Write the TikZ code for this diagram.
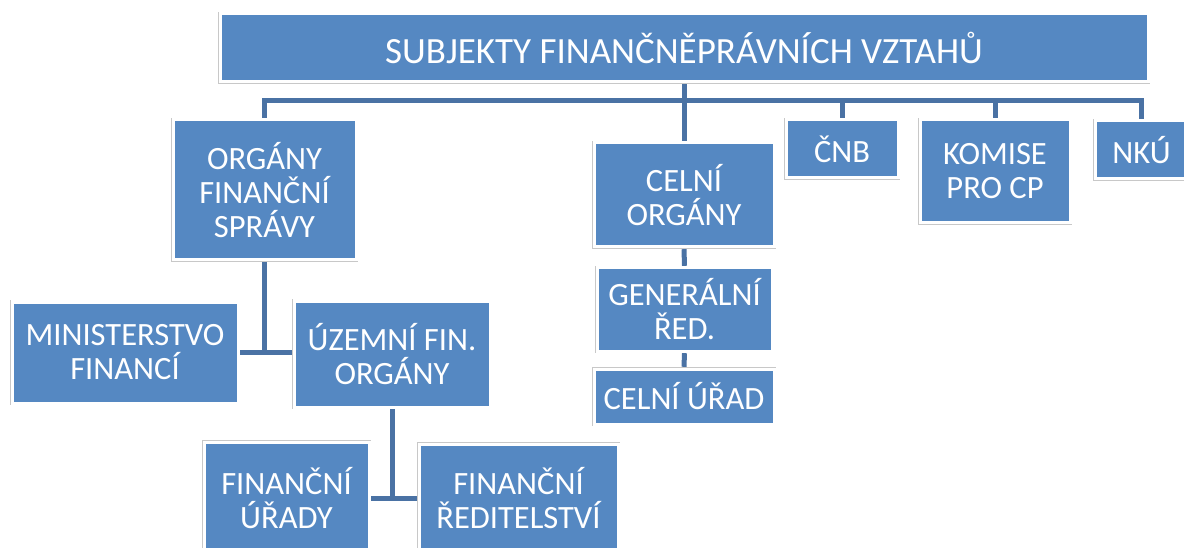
\documentclass[tikz,border=0pt]{standalone}
\usepackage{fontspec}
\setmainfont{Carlito}
\usepackage{tikz}
\usetikzlibrary{positioning}

\definecolor{boxblue}{HTML}{5588C2}
\definecolor{linkblue}{HTML}{4A72A4}
\definecolor{framegray}{HTML}{C8C8C8}

\begin{document}
\begin{tikzpicture}[
    x=1pt, y=-1pt,
    box/.style={
        fill=boxblue,
        draw=white,
        line width=3pt,
        preaction={draw=framegray, line width=4.4pt},
        text=white,
        align=center,
        inner sep=0pt,
        outer sep=2.2pt,
        font=\fontsize{32.5}{34}\selectfont
    },
    link/.style={draw=linkblue, line width=5pt}
]
\useasboundingbox (0,0) rectangle (1184,548);

% --- Title
\node[box, minimum width=928pt, minimum height=68pt, font=\fontsize{37}{40}\selectfont]
    (title) at (684,48) {SUBJEKTY FINANČNĚPRÁVNÍCH VZTAHŮ};

% --- First level
\node[box, minimum width=183pt, minimum height=140pt] (ofs) at (264.5,190) {ORGÁNY\\FINANČNÍ\\SPRÁVY};
\node[box, minimum width=180pt, minimum height=104pt] (celni) at (684,195) {CELNÍ\\ORGÁNY};
\node[box, minimum width=112pt, minimum height=58pt] (cnb) at (842,149) {ČNB};
\node[box, minimum width=150pt, minimum height=103pt] (komise) at (995,171.5) {KOMISE\\PRO CP};
\node[box, minimum width=93pt, minimum height=58pt] (nku) at (1141.5,150) {NKÚ};

% --- Financial administration
\node[box, minimum width=226pt, minimum height=101pt] (mf) at (125,352.5) {MINISTERSTVO\\FINANCÍ};
\node[box, minimum width=196pt, minimum height=106pt] (ufo) at (392,354) {ÚZEMNÍ FIN.\\ORGÁNY};
\node[box, minimum width=165pt, minimum height=112pt] (fu) at (286.5,498) {FINANČNÍ\\ÚŘADY};
\node[box, minimum width=199pt, minimum height=108pt] (fr) at (518.5,498) {FINANČNÍ\\ŘEDITELSTVÍ};

% --- Customs administration
\node[box, minimum width=175pt, minimum height=83pt] (gr) at (684.5,309.5) {GENERÁLNÍ\\ŘED.};
\node[box, minimum width=180pt, minimum height=55pt] (cu) at (684,396.5) {CELNÍ ÚŘAD};

% --- Connectors
\coordinate (bus) at (684,101);
\draw[link] (title.south) -- (celni.north);
\draw[link] (ofs.north) |- (bus) -| (nku.north);
\draw[link] (cnb.north) -- (cnb.north |- bus);
\draw[link] (komise.north) -- (komise.north |- bus);

\draw[link] (ofs.south) -- (ofs.south |- mf.east);
\draw[link] (mf.east) -- (mf.east -| ufo.west);
\draw[link] (ufo.south) -- (ufo.south |- fu.east);
\draw[link] (fu.east) -- (fu.east -| fr.west);

\draw[link] (celni.south) -- (gr.north);
\draw[link] (gr.south) -- (cu.north);

\end{tikzpicture}
\end{document}
